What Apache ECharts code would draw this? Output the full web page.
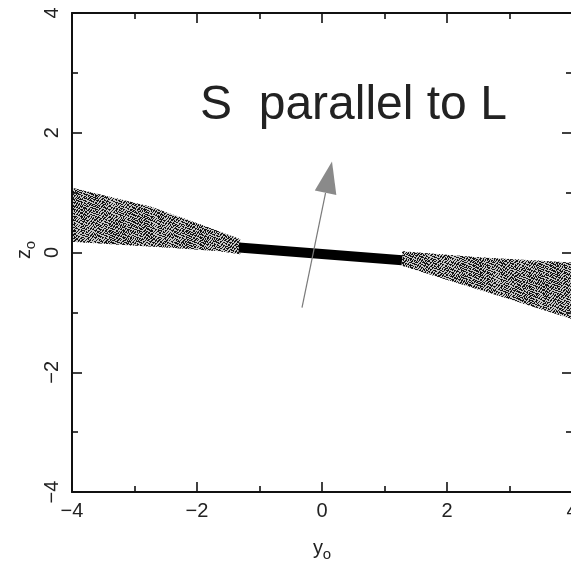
<!DOCTYPE html>
<html>
<head>
<meta charset="utf-8">
<script src="https://cdn.jsdelivr.net/npm/echarts@6/dist/echarts.min.js"></script>
<style>html,body{margin:0;padding:0;background:#fff;}#c{width:571px;height:561px;}</style>
</head>
<body>
<div id="c"></div>
<script>
// ---- data ----
const xTickLabels = ['\u22124', '\u22122', '0', '2', '4'];
const yTickLabels = ['\u22124', '\u22122', '0', '2', '4'];
const tickValues = [-4, -2, 0, 2, 4];

// scattered band (outline of the point cloud), left part
const bandLeftUpperX = [-4.0, -3.55, -2.75, -1.95, -1.31];
const bandLeftUpperZ = [1.08, 0.97, 0.77, 0.47, 0.22];
const bandLeftLowerX = [-4.0, -3.23, -2.43, -1.63, -1.31];
const bandLeftLowerZ = [0.18, 0.13, 0.08, 0.02, -0.03];
// right part
const bandRightUpperX = [1.28, 2.5, 4.05];
const bandRightUpperZ = [0.02, -0.08, -0.17];
const bandRightLowerX = [1.28, 2.05, 2.85, 4.05];
const bandRightLowerZ = [-0.22, -0.47, -0.73, -1.13];

// thick segment
const barX = [-1.33, 1.28];
const barZ = [0.083, -0.13];

// arrow S
const arrowX = [-0.32, 0.16];
const arrowZ = [-0.92, 1.52];

const annotation = 'S  parallel to L';

// ---- build ----
function zipPts(xs, zs) { return xs.map((x, i) => [x, zs[i]]); }
function polygonFrom(ux, uz, lx, lz) {
  return zipPts(ux, uz).concat(zipPts(lx, lz).reverse());
}
const bandPolys = [
  polygonFrom(bandLeftUpperX, bandLeftUpperZ, bandLeftLowerX, bandLeftLowerZ),
  polygonFrom(bandRightUpperX, bandRightUpperZ, bandRightLowerX, bandRightLowerZ)
];

// stipple textures (two tiles of different period overlaid)
function makeTile(rows, color) {
  const c = document.createElement('canvas');
  c.width = rows[0].length; c.height = rows.length;
  const ctx = c.getContext('2d');
  ctx.fillStyle = color;
  rows.forEach((row, r) => {
    for (let i = 0; i < row.length; i++) if (row[i] === '1') ctx.fillRect(i, r, 1, 1);
  });
  return c;
}
const tileA = makeTile([
  '1000100',
  '0010001',
  '0100010',
  '0001100',
  '1000001',
  '0110000',
  '0000110'
], '#111');
const tileB = makeTile([
  '10010001010',
  '00100100001',
  '01000010100',
  '00011000010',
  '10000101000',
  '00100000101',
  '01001010000',
  '00010001001',
  '10000100010',
  '00101000100',
  '01000011000'
], '#1a1a1a');

const FONT = "'Liberation Sans', Arial, sans-serif";
const chart = echarts.init(document.getElementById('c'), null, {renderer: 'canvas'});

function axisCommon(showLabel, labelOpts) {
  return {
    type: 'value', min: -4, max: 4, interval: 2,
    axisLine: {show: true, onZero: false, lineStyle: {color: '#111', width: 2}},
    axisTick: {show: true, inside: true, length: 10, lineStyle: {color: '#111', width: 1.6}},
    minorTick: {show: true, splitNumber: 2, length: 6, lineStyle: {color: '#111', width: 1.6}},
    splitLine: {show: false},
    minorSplitLine: {show: false},
    axisLabel: Object.assign({show: showLabel, color: '#222', fontSize: 20, fontFamily: FONT}, labelOpts || {})
  };
}

const labelMap = (labels) => (v) => {
  const i = tickValues.indexOf(Math.round(v));
  return i >= 0 ? labels[i] : '';
};

const option = {
  backgroundColor: '#fff',
  animation: false,
  grid: {left: 72, top: 13, width: 500, height: 479, containLabel: false, outerBoundsMode: 'none'},
  xAxis: [
    Object.assign(axisCommon(true, {margin: 9, formatter: labelMap(xTickLabels), showMinLabel: true, showMaxLabel: true, hideOverlap: false}), {position: 'bottom'}),
    Object.assign(axisCommon(false), {position: 'top'})
  ],
  yAxis: [
    Object.assign(axisCommon(true, {margin: 10, rotate: 90, formatter: labelMap(yTickLabels), showMinLabel: true, showMaxLabel: true, hideOverlap: false}), {position: 'left'}),
    Object.assign(axisCommon(false), {position: 'right'})
  ],
  series: [
    {
      type: 'custom',
      xAxisIndex: 0, yAxisIndex: 0,
      data: bandPolys.map((p, i) => [i]),
      renderItem: function (params, api) {
        const poly = bandPolys[api.value(0)];
        const pts = poly.map(p => api.coord(p));
        return {
          type: 'group',
          children: [
            {type: 'polygon', shape: {points: pts}, style: {fill: 'rgba(0,0,0,0.22)', stroke: null}},
            {type: 'polygon', shape: {points: pts}, style: {fill: {image: tileA, repeat: 'repeat'}, stroke: null}},
            {type: 'polygon', shape: {points: pts}, style: {fill: {image: tileB, repeat: 'repeat'}, stroke: null}}
          ]
        };
      },
      silent: true, z: 1
    },
    {
      type: 'line',
      data: zipPts(barX, barZ),
      symbol: 'none',
      lineStyle: {color: '#000', width: 10, cap: 'butt'},
      silent: true, z: 3
    },
    {
      type: 'custom',
      data: [[arrowX[0], arrowZ[0], arrowX[1], arrowZ[1]]],
      renderItem: function (params, api) {
        const p0 = api.coord([api.value(0), api.value(1)]);
        const p1 = api.coord([api.value(2), api.value(3)]);
        const dx = p1[0] - p0[0], dy = p1[1] - p0[1];
        const L = Math.sqrt(dx * dx + dy * dy);
        const ux = dx / L, uy = dy / L;
        const headLen = 32, headHalf = 11;
        const bx = p1[0] - ux * headLen, by = p1[1] - uy * headLen;
        const nx = -uy, ny = ux;
        return {
          type: 'group',
          children: [
            {type: 'line', shape: {x1: p0[0], y1: p0[1], x2: bx, y2: by}, style: {stroke: '#7a7a7a', lineWidth: 1.2}},
            {type: 'polygon', shape: {points: [[p1[0], p1[1]], [bx + nx * headHalf, by + ny * headHalf], [bx - nx * headHalf, by - ny * headHalf]]}, style: {fill: '#8a8a8a'}}
          ]
        };
      },
      silent: true, z: 4
    }
  ],
  graphic: [
    {
      type: 'text', left: 200, top: 82, silent: true,
      style: {text: annotation, font: "48px 'Liberation Sans', Arial, sans-serif", fill: '#222'}
    },
    {
      type: 'group', x: 24, y: 254, rotation: Math.PI / 2, silent: true,
      children: [
        {type: 'text', x: 0, y: 0, style: {text: 'z', font: "20px 'Liberation Sans', Arial, sans-serif", fill: '#222', align: 'center', verticalAlign: 'middle'}},
        {type: 'text', x: 9, y: 7, style: {text: 'o', font: "15px 'Liberation Sans', Arial, sans-serif", fill: '#222', align: 'center', verticalAlign: 'middle'}}
      ]
    },
    {
      type: 'group', x: 318, y: 548, silent: true,
      children: [
        {type: 'text', x: 0, y: 0, style: {text: 'y', font: "20px 'Liberation Sans', Arial, sans-serif", fill: '#222', align: 'center', verticalAlign: 'middle'}},
        {type: 'text', x: 9, y: 7, style: {text: 'o', font: "15px 'Liberation Sans', Arial, sans-serif", fill: '#222', align: 'center', verticalAlign: 'middle'}}
      ]
    }
  ]
};
chart.setOption(option);
</script>
</body>
</html>
